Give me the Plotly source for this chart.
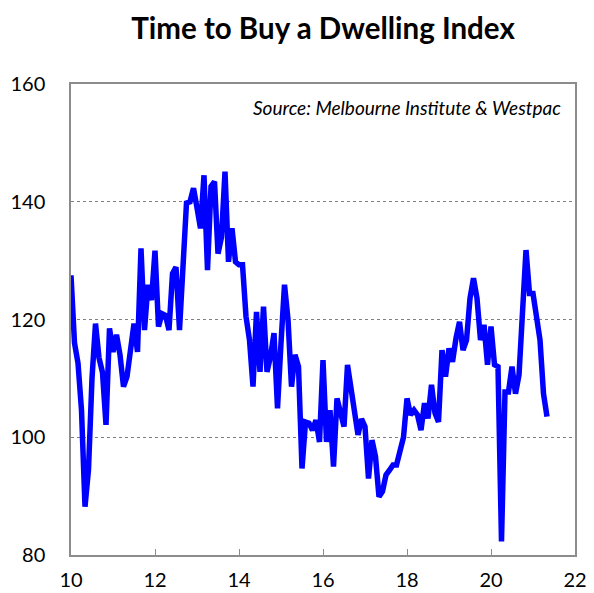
import plotly.graph_objects as go

start_year = 10
index_values = [
    # 2010
    127.5, 116.0, 112.6, 104.6, 88.2, 94.5, 110.0, 119.3, 113.5, 111.0, 102.1, 118.5,
    # 2011
    114.5, 117.4, 114.0, 108.6, 110.3, 115.0, 119.3, 114.5, 132.1, 118.2, 125.9, 123.3,
    # 2012
    131.7, 118.8, 121.0, 120.7, 118.2, 127.8, 128.9, 118.2, 130.0, 139.8, 140.0, 142.3,
    # 2013
    139.0, 135.5, 144.5, 128.4, 142.6, 143.4, 131.2, 134.0, 145.1, 129.8, 135.5, 129.8,
    # 2014
    129.3, 129.3, 120.5, 116.5, 108.6, 121.3, 111.1, 122.2, 111.1, 113.7, 117.7, 104.9,
    # 2015
    116.0, 125.9, 120.0, 108.6, 114.0, 112.0, 94.7, 102.6, 102.4, 101.2, 102.9, 99.2,
    # 2016
    113.1, 99.2, 104.6, 95.0, 106.6, 104.3, 101.8, 112.3, 108.6, 104.9, 100.4, 103.1,
    # 2017
    101.8, 93.0, 99.5, 96.7, 89.9, 90.8, 93.6, 94.4, 95.3, 95.3, 97.3, 100.0,
    # 2018
    106.6, 103.8, 104.6, 103.8, 101.2, 105.8, 103.2, 108.9, 104.1, 102.6, 114.8, 110.3,
    # 2019
    115.1, 112.8, 116.8, 119.6, 114.8, 116.5, 123.6, 127.0, 123.6, 116.5, 119.1, 112.3,
    # 2020
    118.8, 112.3, 112.0, 82.3, 107.7, 107.7, 112.0, 107.4, 110.6, 122.2, 131.8, 124.4,
    # 2021
    124.4, 120.5, 116.5, 107.4, 103.5,
]
x_values = [start_year + i / 12 for i in range(len(index_values))]

x_ticks = [10, 12, 14, 16, 18, 20, 22]
y_ticks = [80, 100, 120, 140, 160]

title_text = "Time to Buy a Dwelling Index"
source_text = "Source: Melbourne Institute & Westpac"

FONT = "Lato, 'Open Sans', sans-serif"

# page has an 8px body margin; figure is sized so the plot area lands at x 71-575, y 84-555
W, H = 586, 585
L, T, R, B = 63, 76, 19, 38
PW, PH = W - L - R, H - T - B

fig = go.Figure()
fig.add_trace(go.Scatter(
    x=x_values, y=index_values, mode="lines",
    line=dict(color="#0000FF", width=5.5),
    hoverinfo="skip", showlegend=False,
))

fig.update_layout(
    width=W, height=H,
    margin=dict(l=L, r=R, t=T, b=B),
    paper_bgcolor="white", plot_bgcolor="white",
    font=dict(family=FONT, size=20, color="black"),
    title=dict(text="<b>" + title_text + "</b>", x=(L + PW / 2) / W, xanchor="center",
               y=1 - 21 / H, yanchor="middle", font=dict(size=29.5, family=FONT, color="black")),
    showlegend=False,
)

fig.update_xaxes(
    range=[10, 22], tickvals=x_ticks, ticktext=[str(v) for v in x_ticks],
    showgrid=False, zeroline=False, automargin=False,
    showline=True, linecolor="#8c8c8c", linewidth=1.5, mirror=True,
    ticks="inside", ticklen=6, tickcolor="#8c8c8c", tickwidth=1,
    ticklabelstandoff=6,
)
fig.update_yaxes(
    range=[80, 160], tickvals=y_ticks, ticktext=[str(v) for v in y_ticks],
    showgrid=True, gridcolor="#808080", griddash="dot", gridwidth=1,
    zeroline=False, automargin=False,
    showline=True, linecolor="#8c8c8c", linewidth=1.5, mirror=True,
    ticks="", ticklabelstandoff=20,
)

fig.add_annotation(
    text="<i>" + source_text + "</i>", xref="paper", yref="paper",
    x=(563 - 71) / PW, y=1 - (107 - 84) / PH, xanchor="right", yanchor="middle",
    showarrow=False, font=dict(size=19, family=FONT, color="black"),
)

fig.write_html("out.html")
